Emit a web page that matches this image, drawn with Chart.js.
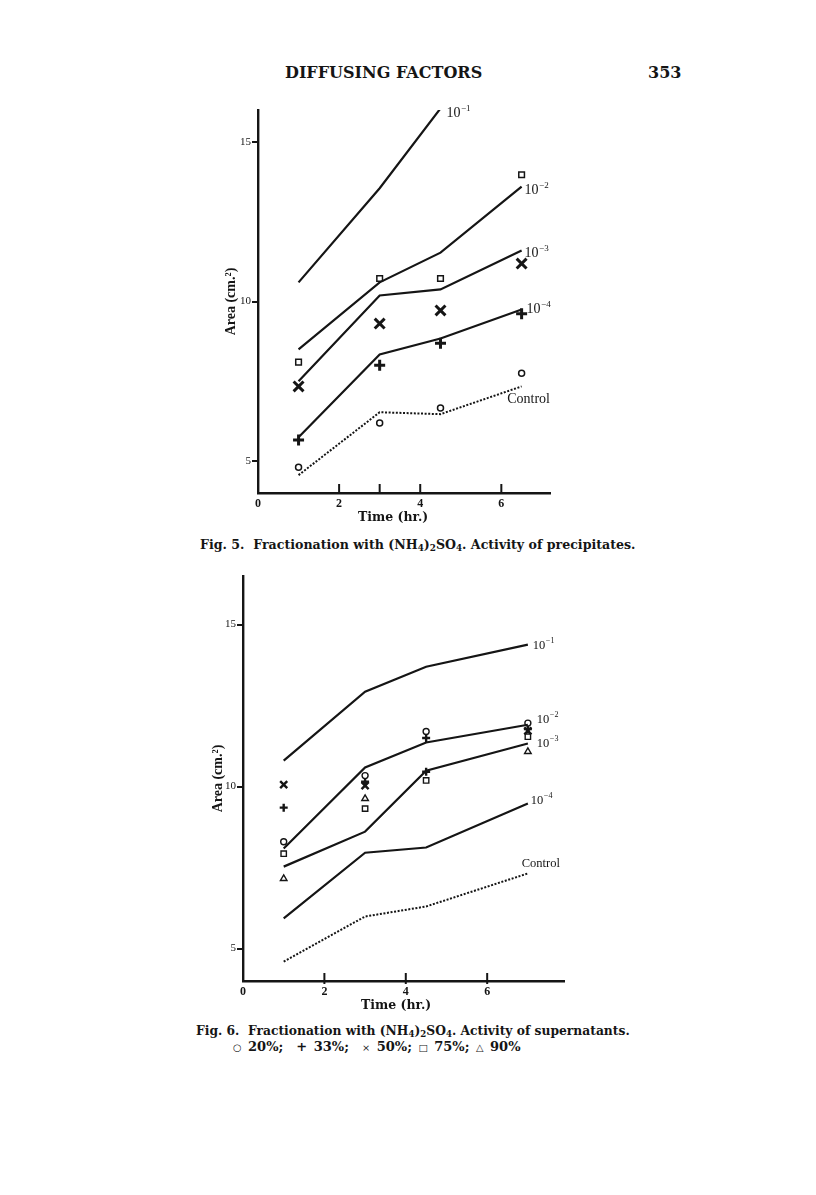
<!DOCTYPE html>
<html><head><meta charset="utf-8">
<script src="https://cdn.jsdelivr.net/npm/chart.js@4.4.1/dist/chart.umd.min.js"></script>
<style>
html,body{margin:0;padding:0;background:#fff;}
body{width:816px;height:1195px;position:relative;overflow:hidden;}
.t{position:absolute;white-space:nowrap;color:#151515;font-family:"DejaVu Serif",serif;font-weight:bold;line-height:1;}
.t sub{font-size:0.7em;vertical-align:-0.25em;line-height:0;}
.sym{font-size:0.75em;font-weight:normal;}
canvas{position:absolute;}
</style></head><body>
<div class="t" style="left:285px;top:65px;font-size:16px;">DIFFUSING FACTORS</div>
<div class="t" style="left:648px;top:65px;font-size:16px;">353</div>

<canvas id="c5" width="345" height="420" style="left:215px;top:100px;"></canvas>
<div class="t" style="left:358px;top:511px;font-size:12.5px;">Time (hr.)</div>
<div class="t" style="left:200px;top:539px;font-size:12.6px;">Fig. 5.&nbsp; Fractionation with (NH<sub>4</sub>)<sub>2</sub>SO<sub>4</sub>. Activity of precipitates.</div>

<canvas id="c6" width="375" height="434" style="left:200px;top:566px;"></canvas>
<div class="t" style="left:361px;top:999px;font-size:12.5px;">Time (hr.)</div>
<div class="t" style="left:196px;top:1025px;font-size:12.3px;">Fig. 6.&nbsp; Fractionation with (NH<sub>4</sub>)<sub>2</sub>SO<sub>4</sub>. Activity of supernatants.</div>
<div class="t" style="left:233px;top:1040px;font-size:13px;word-spacing:2px;"><span class="sym">○</span> 20%;&nbsp; + 33%;&nbsp; <span class="sym">×</span> 50%; <span class="sym">□</span> 75%; <span class="sym">△</span> 90%</div>

<script>
// ---------- Fig. 5 data (precipitates) ----------
const times5 = [1, 3, 4.5, 6.5];
const dil5_1 = [10.6, 13.55, 16.05];
const dil5_2 = [8.5, 10.6, 11.53, 13.6];
const dil5_3 = [7.5, 10.19, 10.38, 11.6];
const dil5_4 = [5.75, 8.34, 8.84, 9.75];
const control5 = [4.56, 6.53, 6.47, 7.34];
const obs5_square = [8.1, 10.72, 10.72, 13.97];
const obs5_cross = [7.34, 9.31, 9.72, 11.19];
const obs5_plus = [5.66, 8.0, 8.69, 9.62];
const obs5_circle = [4.81, 6.19, 6.66, 7.75];

// ---------- Fig. 6 data (supernatants) ----------
const times6 = [1, 3, 4.5, 7];
const dil6_1 = [10.8, 12.93, 13.7, 14.38];
const dil6_2 = [8.09, 10.59, 11.36, 11.91];
const dil6_3 = [7.53, 8.61, 10.49, 11.33];
const dil6_4 = [5.93, 7.96, 8.12, 9.48];
const control6 = [4.6, 5.99, 6.3, 7.32];
const sat20 = [8.3, 10.34, 11.7, 11.96];
const sat33 = [9.35, 10.15, 11.5, 11.78];
const sat50 = [10.06, 10.03, 10.46, 11.72];
const sat75 = [7.93, 9.32, 10.19, 11.54];
const sat90 = [7.16, 9.63, null, 11.08];

// ---------- labels / ticks ----------
const dilutionExponents = ['\u22121', '\u22122', '\u22123', '\u22124'];
const controlLabel = 'Control';
const yTickValues = [5, 10, 15];
const xTickLabels = [0, 2, 4, 6];
const xTickMarks5 = [2, 3, 4, 6];
const xTickMarks6 = [2, 4, 6];
const yTitle = 'Area (cm.\u00b2)';

const INK = '#151515';
const SERIF = '"Liberation Serif", "Times New Roman", serif';

function pts(xs, ys) {
  const out = [];
  ys.forEach((y, i) => { if (y !== null && y !== undefined) out.push({x: xs[i], y}); });
  return out;
}

function lineDS(label, xs, ys, endLabel, off, dashed) {
  return {
    label, data: pts(xs, ys), showLine: true, borderColor: INK, backgroundColor: INK,
    borderWidth: dashed ? 2 : 2.2, borderDash: dashed ? [2, 1.6] : [], pointRadius: 0, tension: 0,
    endLabel, endOffset: off
  };
}
function markDS(label, xs, ys, style, r, bw) {
  return {
    label, data: pts(xs, ys), showLine: false, pointStyle: style, pointRadius: r,
    pointBorderWidth: bw, pointBorderColor: INK, pointBackgroundColor: '#fff',
    borderColor: INK, backgroundColor: '#fff'
  };
}

const endLabelPlugin = {
  id: 'endLabels',
  afterDatasetsDraw(chart, args, opts) {
    const ctx = chart.ctx;
    ctx.save();
    ctx.fillStyle = INK;
    ctx.textBaseline = 'middle';
    chart.data.datasets.forEach((ds, i) => {
      if (!ds.endLabel) return;
      const meta = chart.getDatasetMeta(i);
      const last = meta.data[meta.data.length - 1];
      const x = last.x + ds.endOffset[0], y = last.y + ds.endOffset[1];
      if (ds.endLabel.sup) {
        ctx.font = opts.size + 'px ' + SERIF;
        ctx.textAlign = 'left';
        ctx.fillText(ds.endLabel.base, x, y);
        const w = ctx.measureText(ds.endLabel.base).width;
        ctx.font = Math.round(opts.size * 0.66) + 'px ' + SERIF;
        ctx.fillText(ds.endLabel.sup, x + w + 0.5, y - opts.size * 0.36);
      } else {
        ctx.font = opts.size + 'px ' + SERIF;
        ctx.textAlign = 'center';
        ctx.fillText(ds.endLabel.text, x, y);
      }
    });
    ctx.restore();
  }
};

const innerTicksPlugin = {
  id: 'innerTicks',
  afterDraw(chart, args, opts) {
    const xs = chart.scales.x, ctx = chart.ctx;
    const base = chart.chartArea.bottom;
    ctx.save();
    ctx.strokeStyle = INK;
    ctx.lineWidth = 2;
    opts.values.forEach(v => {
      const px = xs.getPixelForValue(v);
      ctx.beginPath();
      ctx.moveTo(px, base + opts.below);
      ctx.lineTo(px, base - opts.above);
      ctx.stroke();
    });
    ctx.restore();
  }
};

function makeOptions(cfg) {
  return {
    responsive: false, animation: false, devicePixelRatio: 1,
    layout: {padding: {left: 0, right: cfg.padRight, top: cfg.padTop, bottom: 0}},
    plugins: {
      legend: {display: false}, tooltip: {enabled: false},
      endLabels: {size: cfg.labelSize},
      innerTicks: {values: cfg.tickMarks, above: cfg.tickAbove, below: cfg.tickBelow}
    },
    scales: {
      x: {
        type: 'linear', min: 0, max: cfg.xMax,
        afterFit(s) { s.height = cfg.xAxisH; },
        afterBuildTicks(s) { s.ticks = xTickLabels.map(v => ({value: v})); },
        border: {color: INK, width: 2.4},
        grid: {display: false, drawTicks: false},
        ticks: {color: INK, padding: 4, font: {family: SERIF, size: 12, weight: 'bold'}, callback: v => String(v)}
      },
      y: {
        type: 'linear', min: 4, max: cfg.yMax,
        afterFit(s) { s.width = 43; },
        afterBuildTicks(s) { s.ticks = yTickValues.map(v => ({value: v})); },
        border: {color: INK, width: 2.4},
        grid: {drawOnChartArea: false, drawTicks: true, tickLength: 6, color: INK, lineWidth: 2},
        ticks: {color: INK, padding: 1, font: {family: SERIF, size: 11}, callback: v => String(v)},
        title: {display: true, text: yTitle, color: INK, padding: {top: cfg.yTitlePad, bottom: 0},
                font: {family: SERIF, size: 14, weight: 'bold'}}
      }
    }
  };
}

const sup = e => ({base: '10', sup: e});

new Chart(document.getElementById('c5'), {
  type: 'scatter',
  data: {datasets: [
    lineDS('10^-1', times5, dil5_1, sup(dilutionExponents[0]), [6, 5]),
    lineDS('10^-2', times5, dil5_2, sup(dilutionExponents[1]), [3, 4]),
    lineDS('10^-3', times5, dil5_3, sup(dilutionExponents[2]), [3, 3]),
    lineDS('10^-4', times5, dil5_4, sup(dilutionExponents[3]), [5, 0]),
    lineDS('Control', times5, control5, {text: controlLabel}, [7, 13], true),
    markDS('10^-2 obs', times5, obs5_square, 'rect', 4, 1.5),
    markDS('10^-3 obs', times5, obs5_cross, 'crossRot', 7, 3),
    markDS('10^-4 obs', times5, obs5_plus, 'cross', 5.5, 3),
    markDS('Control obs', times5, obs5_circle, 'circle', 3, 1.5)
  ]},
  options: makeOptions({padRight: 8, padTop: 9, xMax: 7.2, yMax: 16, xAxisH: 27, labelSize: 14,
                        tickMarks: xTickMarks5, tickAbove: 9, tickBelow: 0, yTitlePad: 8}),
  plugins: [endLabelPlugin, innerTicksPlugin]
});

const ds50 = markDS('50%', times6, sat50, 'crossRot', 5, 2.4);
ds50.pointStyle = ['crossRot', 'crossRot', 'cross', 'crossRot'];
ds50.pointRadius = [5, 5, 4, 5];

new Chart(document.getElementById('c6'), {
  type: 'scatter',
  data: {datasets: [
    lineDS('10^-1', times6, dil6_1, sup(dilutionExponents[0]), [5, 1]),
    lineDS('10^-2', times6, dil6_2, sup(dilutionExponents[1]), [9, -5]),
    lineDS('10^-3', times6, dil6_3, sup(dilutionExponents[2]), [9, 0]),
    lineDS('10^-4', times6, dil6_4, sup(dilutionExponents[3]), [3, -3]),
    lineDS('Control', times6, control6, {text: controlLabel}, [13, -10], true),
    markDS('20%', times6, sat20, 'circle', 3, 1.4),
    markDS('33%', times6, sat33, 'cross', 4, 2.4),
    ds50,
    markDS('75%', times6, sat75, 'rect', 3.8, 1.4),
    markDS('90%', times6, sat90, 'triangle', 3.8, 1.4)
  ]},
  options: makeOptions({padRight: 10.5, padTop: 10, xMax: 7.9, yMax: 16.5, xAxisH: 19, labelSize: 12.5,
                        tickMarks: xTickMarks6, tickAbove: 8, tickBelow: 3, yTitlePad: 10}),
  plugins: [endLabelPlugin, innerTicksPlugin]
});
</script>
</body></html>
